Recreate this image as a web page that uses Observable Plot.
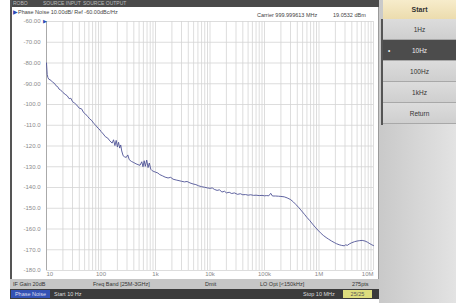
<!DOCTYPE html>
<html><head><meta charset="utf-8">
<script src="https://cdn.jsdelivr.net/npm/d3@7"></script>
<script src="https://cdn.jsdelivr.net/npm/@observablehq/plot@0.6"></script>
<style>
body{margin:0;background:#fff;}
#root{position:relative;width:456px;height:303px;overflow:hidden;font-family:"Liberation Sans",Arial,sans-serif;}
.abs{position:absolute;white-space:nowrap;}
.sk{position:absolute;left:383px;width:73px;height:20px;line-height:20px;text-align:center;font-size:6.5px;color:#333;background:linear-gradient(#dcdcdc,#cfcfcf);border-bottom:1px solid #a8a8a8;box-sizing:border-box;}
</style></head><body><div id="root">
<div class="abs" style="left:10px;top:0;width:369px;height:7px;background:#4a4a4a;"></div>
<div class="abs" style="left:13px;top:0;font-size:5px;line-height:7px;color:#bbb;">ROBO</div>
<div class="abs" style="left:43px;top:0;font-size:5px;line-height:7px;color:#bbb;">SOURCE INPUT</div>
<div class="abs" style="left:83px;top:0;font-size:5px;line-height:7px;color:#bbb;">SOURCE OUTPUT</div>
<div class="abs" style="left:10px;top:0;width:2px;height:299px;background:#555;"></div>
<div class="abs" style="left:377px;top:7px;width:3px;height:272px;background:#9a9a9a;"></div>
<div id="chart" class="abs" style="left:12px;top:7px;"></div>
<div class="abs" style="left:13px;top:9px;font-size:5.5px;line-height:7px;color:#444;"><span style="color:#2a4bb5">&#9654;</span>Phase Noise 10.00dB/ Ref -60.00dBc/Hz</div>
<div class="abs" style="left:257px;top:12px;font-size:5.5px;line-height:7px;color:#444;">Carrier 999.999613 MHz</div>
<div class="abs" style="left:333px;top:12px;font-size:5.5px;line-height:7px;color:#444;">19.0532 dBm</div>
<div class="abs" style="left:10px;top:279px;width:369px;height:10px;background:#c6c6c6;"></div>
<div class="abs" style="left:13px;top:279px;font-size:5.5px;line-height:10px;color:#333;">IF Gain 20dB</div>
<div class="abs" style="left:93px;top:279px;font-size:5.5px;line-height:10px;color:#333;">Freq Band [25M-3GHz]</div>
<div class="abs" style="left:205px;top:279px;font-size:5.5px;line-height:10px;color:#333;">Dmit</div>
<div class="abs" style="left:260px;top:279px;font-size:5.5px;line-height:10px;color:#333;">LO Opt [&lt;150kHz]</div>
<div class="abs" style="left:352px;top:279px;font-size:5.5px;line-height:10px;color:#333;">275pts</div>
<div class="abs" style="left:10px;top:289px;width:369px;height:10px;background:#3b3b3b;"></div>
<div class="abs" style="left:11px;top:290px;width:39px;height:8px;background:#3452b4;font-size:5.5px;line-height:8px;color:#dde;text-align:center;">Phase Noise</div>
<div class="abs" style="left:54px;top:289px;font-size:5.5px;line-height:10px;color:#ddd;">Start 10 Hz</div>
<div class="abs" style="left:303px;top:289px;font-size:5.5px;line-height:10px;color:#ddd;">Stop 10 MHz</div>
<div class="abs" style="left:343px;top:290px;width:29px;height:8px;background:#dede7e;font-size:5.5px;line-height:8px;color:#555;text-align:center;">25/25</div>
<div class="abs" style="left:379px;top:0;width:77px;height:303px;background:linear-gradient(90deg,#c9c9c9,#e3e3e3);"></div>
<div class="abs" style="left:381px;top:19px;width:2px;height:106px;background:#555;"></div>
<div class="abs" style="left:383px;top:0;width:73px;height:19px;line-height:19px;background:linear-gradient(#f7eccb,#ecdcae);text-align:center;font-size:7px;font-weight:bold;color:#333;">Start</div>
<div id="keys"></div>
</div>
<script>
const freqs = [10,10.3,10.6,11,12,13,14,15,16,17,18,20,22,24,26,28,30,33,36,40,44,48,52,57,62,68,74,80,88,96,
100,110,120,133,145,160,170,180,190,200,210,220,230,240,255,270,290,310,330,360,400,440,480,520,560,590,620,650,690,730,770,820,870,930,
1000,1100,1200,1350,1500,1700,1900,2100,2400,2700,3000,3400,3800,4300,4900,5500,6200,7000,8000,9000,
10000,11000,12000,13500,15000,16500,18500,20000,22500,25000,28000,32000,36000,40000,45000,50000,56000,63000,70000,80000,90000,
100000,110000,120000,130000,140000,160000,180000,200000,230000,260000,300000,340000,380000,430000,480000,540000,600000,680000,760000,850000,950000,
1060000,1200000,1350000,1500000,1700000,1900000,2100000,2350000,2600000,2900000,3100000,3300000,3600000,4000000,4500000,5000000,5600000,6200000,7000000,7800000,8600000,9300000,10000000];
const dbc = [-80,-85.5,-87,-87.8,-88.3,-89.3,-89.8,-91,-91.4,-92.6,-92.9,-94.2,-95.1,-95.8,-97.2,-97,-98.6,-99.4,-100.3,-101.8,-102.1,-103.9,-104.6,-105.8,-106.9,-107.8,-109.2,-110,-111.4,-112.3,
-113,-114.2,-115.5,-116.2,-117.5,-118.6,-117,-119.8,-117.3,-120.5,-118.2,-121,-119.5,-122.4,-124.7,-125.2,-125.5,-124.3,-126.6,-127.4,-128,-128.6,-129,-129.3,-127.6,-130,-127.1,-129.8,-126.8,-130.4,-128.2,-131.2,-131.9,-132.3,
-132.6,-133,-133.8,-134.4,-135,-135.4,-135.1,-136,-136.4,-136.7,-137,-137.3,-137.1,-137.8,-138.3,-138.6,-139.2,-139.6,-139.9,-140.2,
-140.4,-140.2,-140.9,-141.4,-141.1,-142.2,-141.8,-142.6,-142.3,-142.9,-142.6,-143.3,-143,-143.5,-143.4,-143.7,-143.5,-143.8,-143.7,-143.9,-143.8,
-144,-143.9,-144,-142.8,-144.1,-144.1,-144.2,-144.3,-144.5,-145,-145.8,-147,-148.3,-149.8,-151.3,-152.9,-154.4,-156,-157.6,-159.1,-160.5,
-161.8,-163.1,-164.1,-164.9,-165.8,-166.5,-167.1,-167.6,-167.9,-168.1,-167.6,-167.9,-167.2,-166.6,-166.1,-165.8,-165.6,-165.5,-165.8,-166.4,-167.1,-167.6,-168];
const yTicks = [-60,-70,-80,-90,-100,-110,-120,-130,-140,-150,-160,-170,-180];
const xTickValues = [10,100,1000,10000,100000,1000000,10000000];
const xTickLabels = ["10","100","1k","10k","100k","1M","10M"];
const softkeys = ["1Hz","10Hz","100Hz","1kHz","Return"];
const selectedKey = "10Hz";

const trace = freqs.map((f,i)=>({f, v: dbc[i]}));
const minorGrid = [];
for (let k=1;k<7;k++) for (let m=1;m<10;m++) minorGrid.push(m*Math.pow(10,k));
minorGrid.push(1e7);
const labelsMid = xTickValues.slice(1,-1).map((v,i)=>({v, t: xTickLabels[i+1]}));

const chart = Plot.plot({
  width: 366, height: 272,
  marginLeft: 34, marginRight: 5, marginTop: 14, marginBottom: 9,
  style: {background:"#fff", fontFamily:"Liberation Sans, Arial, sans-serif", fontSize:"6px", color:"#888"},
  x: {type:"log", domain:[10,1e7], axis:null},
  y: {domain:[-180,-60], axis:null},
  marks: [
    Plot.ruleX(minorGrid, {stroke:"#d4d4d4", strokeWidth:0.8}),
    Plot.ruleY(yTicks, {stroke:"#d4d4d4", strokeWidth:0.8}),
    Plot.ruleX([10], {stroke:"#aaa", strokeWidth:1}),
    Plot.text(yTicks, {x:10, y:d=>d, text:d=> d > -100 ? d.toFixed(2) : d.toFixed(1), textAnchor:"end", dx:-6, fill:"#8a8a8a"}),
    Plot.text([-60], {x:10, y:d=>d, text:()=>"\u25B6", dx:-2, fill:"#2a4bb5", fontSize:5}),
    Plot.text([{v:xTickValues[0], t:xTickLabels[0]}], {x:"v", y:()=>-180, text:"t", textAnchor:"start", dy:4, fill:"#8a8a8a"}),
    Plot.text(labelsMid, {x:"v", y:()=>-180, text:"t", textAnchor:"middle", dy:4, fill:"#8a8a8a"}),
    Plot.text([{v:xTickValues[6], t:xTickLabels[6]}], {x:"v", y:()=>-180, text:"t", textAnchor:"end", dy:4, fill:"#8a8a8a"}),
    Plot.line(trace, {x:"f", y:"v", stroke:"#4f5396", strokeWidth:0.9})
  ]
});
document.getElementById("chart").appendChild(chart);

const keys = document.getElementById("keys");
softkeys.forEach((k,i)=>{
  const d = document.createElement("div");
  d.className = "sk";
  d.style.top = (19 + i*21) + "px";
  d.style.height = "21px";
  d.style.lineHeight = "21px";
  if (k === selectedKey) {
    d.style.background = "#4c4c4c";
    d.style.color = "#eee";
    d.innerHTML = '<span style="position:absolute;left:5px;">&#8226;</span>' + k;
  } else d.textContent = k;
  keys.appendChild(d);
});
</script>
</body></html>
